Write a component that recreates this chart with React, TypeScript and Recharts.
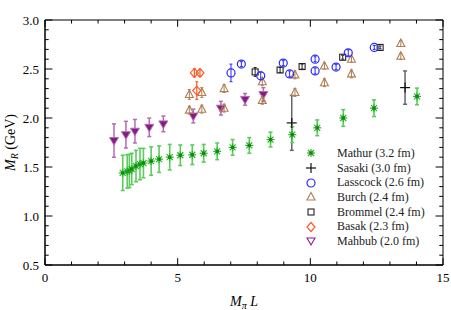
import React from "react";
import {
  ErrorBar,
  Label,
  Legend,
  ReferenceArea,
  ReferenceLine,
  Scatter,
  ScatterChart,
  XAxis,
  YAxis,
} from "recharts";

// ticks
const xMajorTicks = [0, 5, 10, 15];
const xMinorTicks = [1, 2, 3, 4, 6, 7, 8, 9, 11, 12, 13, 14];
const yMajorTicks = [0.5, 1.0, 1.5, 2.0, 2.5, 3.0];
const yMinorTicks = [
  0.6, 0.7, 0.8, 0.9, 1.1, 1.2, 1.3, 1.4, 1.6, 1.7, 1.8, 1.9, 2.1, 2.2, 2.3, 2.4,
  2.6, 2.7, 2.8, 2.9,
];

// Mathur (3.2 fm)
const mathurX = [2.93, 3.1, 3.18, 3.27, 3.43, 3.58, 3.71, 4.0, 4.3, 4.7, 5.1, 5.55, 5.98, 6.49, 7.07, 7.7, 8.5, 9.32, 10.26, 11.24, 12.4, 14.02];
const mathurY = [1.44, 1.455, 1.46, 1.48, 1.51, 1.53, 1.54, 1.56, 1.58, 1.6, 1.62, 1.625, 1.64, 1.66, 1.7, 1.72, 1.78, 1.83, 1.9, 2.0, 2.1, 2.22];
const mathurErr = [0.18, 0.17, 0.17, 0.16, 0.16, 0.16, 0.15, 0.145, 0.135, 0.13, 0.105, 0.1, 0.09, 0.085, 0.08, 0.08, 0.075, 0.08, 0.08, 0.085, 0.085, 0.085];

// Sasaki (3.0 fm)
const sasakiX = [9.3, 13.57];
const sasakiY = [1.95, 2.31];
const sasakiErr = [0.28, 0.17];

// Lasscock (2.6 fm)
const lasscockX = [7.01, 7.4, 8.13, 8.98, 9.22, 10.18, 10.18, 10.97, 11.43, 12.41];
const lasscockY = [2.46, 2.55, 2.43, 2.56, 2.45, 2.6, 2.48, 2.52, 2.665, 2.72];
const lasscockErr = [0.09, 0.025, 0.04, 0.025, 0.03, 0.025, 0.03, 0.025, 0.03, 0.02];

// Burch (2.4 fm)
const burchX = [5.44, 5.44, 5.91, 5.91, 6.75, 6.75, 8.19, 8.19, 9.42, 9.42, 10.53, 10.53, 11.55, 11.55, 13.41, 13.41];
const burchY = [2.24, 2.08, 2.26, 2.09, 2.3, 2.1, 2.37, 2.18, 2.44, 2.26, 2.53, 2.36, 2.6, 2.45, 2.76, 2.63];
const burchErr = [0.05, 0.04, 0.05, 0.04, 0.04, 0.04, 0.04, 0.04, 0.04, 0.04, 0.03, 0.04, 0.03, 0.04, 0.03, 0.03];

// Brommel (2.4 fm)
const brommelX = [7.92, 8.86, 9.69, 11.22, 12.63];
const brommelY = [2.47, 2.49, 2.525, 2.62, 2.72];
const brommelErr = [0.045, 0.025, 0.025, 0.02, 0.015];

// Basak (2.3 fm)
const basakX = [5.63, 5.84, 5.72];
const basakY = [2.46, 2.46, 2.28];
const basakErr = [0.04, 0.03, 0.09];

// Mahbub (2.0 fm)
const mahbubX = [2.6, 3.05, 3.39, 3.93, 4.46, 5.59, 6.63, 7.54, 8.23];
const mahbubY = [1.77, 1.83, 1.865, 1.905, 1.94, 2.02, 2.1, 2.19, 2.24];
const mahbubErr = [0.17, 0.136, 0.12, 0.094, 0.08, 0.07, 0.07, 0.06, 0.07];

const toPoints = (xs: number[], ys: number[], es: number[]) =>
  xs.map((x, i) => ({ x, y: ys[i], err: es[i] }));

const FONT = "'Liberation Serif', 'Times New Roman', serif";

const C = {
  mathur: "#2ab42a",
  mathurErr: "#5ccc5c",
  sasaki: "#111",
  lasscock: "#2a2aff",
  burch: "#b07e52",
  brommel: "#222",
  basak: "#ff5a28",
  mahbub: "#861a86",
  mahbubErr: "#b46cb4",
};

type MP = { cx?: number; cy?: number };

const Asterisk = ({ cx = 0, cy = 0 }: MP) => (
  <g>
    <g stroke={C.mathur} strokeWidth={1.2}>
      <line x1={cx - 4} y1={cy} x2={cx + 4} y2={cy} />
      <line x1={cx} y1={cy - 4} x2={cx} y2={cy + 4} />
      <line x1={cx - 3} y1={cy - 3} x2={cx + 3} y2={cy + 3} />
      <line x1={cx - 3} y1={cy + 3} x2={cx + 3} y2={cy - 3} />
    </g>
    <rect x={cx - 1.6} y={cy - 1.6} width={3.2} height={3.2} fill="#0b8a0b" />
  </g>
);

const Plus = ({ cx = 0, cy = 0 }: MP) => (
  <g stroke={C.sasaki} strokeWidth={1.2}>
    <line x1={cx - 5} y1={cy} x2={cx + 5} y2={cy} />
    <line x1={cx} y1={cy - 5} x2={cx} y2={cy + 5} />
  </g>
);

const Circle = ({ cx = 0, cy = 0 }: MP) => (
  <circle cx={cx} cy={cy} r={4} fill="none" stroke={C.lasscock} strokeWidth={1.2} />
);

const TriUp = ({ cx = 0, cy = 0 }: MP) => (
  <polygon
    points={`${cx},${cy - 4.5} ${cx - 4},${cy + 3} ${cx + 4},${cy + 3}`}
    fill="none"
    stroke={C.burch}
    strokeWidth={1.1}
  />
);

const Square = ({ cx = 0, cy = 0 }: MP) => (
  <rect x={cx - 3} y={cy - 3} width={6} height={6} fill="none" stroke={C.brommel} strokeWidth={1.1} />
);

const Diamond = ({ cx = 0, cy = 0 }: MP) => (
  <polygon
    points={`${cx},${cy - 4.5} ${cx + 4},${cy} ${cx},${cy + 4.5} ${cx - 4},${cy}`}
    fill="none"
    stroke={C.basak}
    strokeWidth={1.2}
  />
);

const TriDownFilled = ({ cx = 0, cy = 0 }: MP) => (
  <polygon
    points={`${cx - 4.5},${cy - 3} ${cx + 4.5},${cy - 3} ${cx},${cy + 4.5}`}
    fill={C.mahbub}
    stroke={C.mahbubErr}
    strokeWidth={1}
  />
);

const TriDownOpen = ({ cx = 0, cy = 0 }: MP) => (
  <polygon
    points={`${cx - 4},${cy - 3} ${cx + 4},${cy - 3} ${cx},${cy + 4}`}
    fill="none"
    stroke={C.mahbub}
    strokeWidth={1.1}
  />
);

const legendRows = [
  { name: "Mathur (3.2 fm)", Icon: Asterisk },
  { name: "Sasaki (3.0 fm)", Icon: Plus },
  { name: "Lasscock (2.6 fm)", Icon: Circle },
  { name: "Burch (2.4 fm)", Icon: TriUp },
  { name: "Brommel (2.4 fm)", Icon: Square },
  { name: "Basak (2.3 fm)", Icon: Diamond },
  { name: "Mahbub (2.0 fm)", Icon: TriDownOpen },
];

const LegendBox = () => (
  <div style={{ fontFamily: FONT, fontSize: 12, color: "#222" }}>
    {legendRows.map(({ name, Icon }) => (
      <div key={name} style={{ display: "flex", alignItems: "center", height: 14.7 }}>
        <svg width={14} height={14} style={{ marginRight: 19 }}>
          <Icon cx={7} cy={7} />
        </svg>
        <span>{name}</span>
      </div>
    ))}
  </div>
);

const XTitle = (props: any) => {
  const { x, y, width } = props.viewBox;
  return (
    <text x={x + width / 2} y={y + 41} textAnchor="middle" fontFamily={FONT} fontSize={14} fill="#000">
      <tspan fontStyle="italic">M</tspan>
      <tspan fontStyle="italic" fontSize={10} dy={3}>π</tspan>
      <tspan dy={-3}> </tspan>
      <tspan fontStyle="italic">L</tspan>
    </text>
  );
};

const YTitle = (props: any) => {
  const { y, height } = props.viewBox;
  const cx = 15;
  const cy = y + height / 2;
  return (
    <text
      x={cx}
      y={cy}
      transform={`rotate(-90, ${cx}, ${cy})`}
      textAnchor="middle"
      fontFamily={FONT}
      fontSize={14}
      fill="#000"
    >
      <tspan fontStyle="italic">M</tspan>
      <tspan fontStyle="italic" fontSize={10} dy={3}>R</tspan>
      <tspan dy={-3}> (GeV)</tspan>
    </text>
  );
};

const tickStyle = { fontFamily: FONT, fontSize: 13, fill: "#000" };

export default function App() {
  const xTicksAll = [...xMajorTicks.map((t) => [t, 0.07]), ...xMinorTicks.map((t) => [t, 0.036])];
  const yTicksAll = [...yMajorTicks.map((t) => [t, 0.28]), ...yMinorTicks.map((t) => [t, 0.14])];

  return (
    <div
      style={{
        position: "absolute",
        left: 0,
        top: 0,
        width: 451,
        height: 310,
        background: "#fff",
        fontFamily: FONT,
      }}
    >
      <ScatterChart
        width={451}
        height={310}
        margin={{ top: 20, right: 8, bottom: 0, left: 0 }}
        style={{ fontFamily: FONT }}
      >
        <XAxis
          type="number"
          dataKey="x"
          domain={[0, 15]}
          ticks={xMajorTicks}
          tickLine={false}
          tickSize={5}
          tickMargin={3}
          axisLine={{ stroke: "#000" }}
          tick={tickStyle}
          height={45}
          allowDataOverflow
        >
          <Label content={XTitle} />
        </XAxis>
        <YAxis
          type="number"
          dataKey="y"
          domain={[0.5, 3.0]}
          ticks={yMajorTicks}
          tickFormatter={(v: number) => v.toFixed(1)}
          tickLine={false}
          tickSize={4}
          tickMargin={2}
          axisLine={{ stroke: "#000" }}
          tick={tickStyle}
          width={45}
          allowDataOverflow
        >
          <Label content={YTitle} />
        </YAxis>

        <ReferenceArea x1={0} x2={15} y1={0.5} y2={3.0} fill="none" stroke="#000" strokeWidth={1} />
        {xTicksAll.map(([t, len]) => (
          <ReferenceLine key={`xb${t}`} segment={[{ x: t, y: 0.5 }, { x: t, y: 0.5 + len }]} stroke="#000" />
        ))}
        {xTicksAll.map(([t, len]) => (
          <ReferenceLine key={`xt${t}`} segment={[{ x: t, y: 3.0 }, { x: t, y: 3.0 - len }]} stroke="#000" />
        ))}
        {yTicksAll.map(([t, len]) => (
          <ReferenceLine key={`yl${t}`} segment={[{ x: 0, y: t }, { x: len, y: t }]} stroke="#000" />
        ))}
        {yTicksAll.map(([t, len]) => (
          <ReferenceLine key={`yr${t}`} segment={[{ x: 15, y: t }, { x: 15 - len, y: t }]} stroke="#000" />
        ))}

        <Scatter name="Sasaki (3.0 fm)" data={toPoints(sasakiX, sasakiY, sasakiErr)} shape={(p: any) => <Plus cx={p.cx} cy={p.cy} />} isAnimationActive={false}>
          <ErrorBar dataKey="err" direction="y" width={2} stroke="#666" strokeWidth={1.5} />
        </Scatter>
        <Scatter name="Mahbub (2.0 fm)" data={toPoints(mahbubX, mahbubY, mahbubErr)} shape={(p: any) => <TriDownFilled cx={p.cx} cy={p.cy} />} isAnimationActive={false}>
          <ErrorBar dataKey="err" direction="y" width={2} stroke={C.mahbubErr} strokeWidth={1.5} />
        </Scatter>
        <Scatter name="Burch (2.4 fm)" data={toPoints(burchX, burchY, burchErr)} shape={(p: any) => <TriUp cx={p.cx} cy={p.cy} />} isAnimationActive={false}>
          <ErrorBar dataKey="err" direction="y" width={1.5} stroke={C.burch} strokeWidth={1} />
        </Scatter>
        <Scatter name="Brommel (2.4 fm)" data={toPoints(brommelX, brommelY, brommelErr)} shape={(p: any) => <Square cx={p.cx} cy={p.cy} />} isAnimationActive={false}>
          <ErrorBar dataKey="err" direction="y" width={1.5} stroke={C.brommel} strokeWidth={1} />
        </Scatter>
        <Scatter name="Lasscock (2.6 fm)" data={toPoints(lasscockX, lasscockY, lasscockErr)} shape={(p: any) => <Circle cx={p.cx} cy={p.cy} />} isAnimationActive={false}>
          <ErrorBar dataKey="err" direction="y" width={1.5} stroke={C.lasscock} strokeWidth={1} />
        </Scatter>
        <Scatter name="Basak (2.3 fm)" data={toPoints(basakX, basakY, basakErr)} shape={(p: any) => <Diamond cx={p.cx} cy={p.cy} />} isAnimationActive={false}>
          <ErrorBar dataKey="err" direction="y" width={1.5} stroke={C.basak} strokeWidth={1.2} />
        </Scatter>
        <Scatter name="Mathur (3.2 fm)" data={toPoints(mathurX, mathurY, mathurErr)} shape={(p: any) => <Asterisk cx={p.cx} cy={p.cy} />} isAnimationActive={false}>
          <ErrorBar dataKey="err" direction="y" width={2} stroke={C.mathurErr} strokeWidth={1.6} />
        </Scatter>

        <Legend
          layout="vertical"
          align="center"
          verticalAlign="middle"
          wrapperStyle={{ left: 304, top: 146, width: 140 }}
          content={() => <LegendBox />}
        />
      </ScatterChart>
    </div>
  );
}
